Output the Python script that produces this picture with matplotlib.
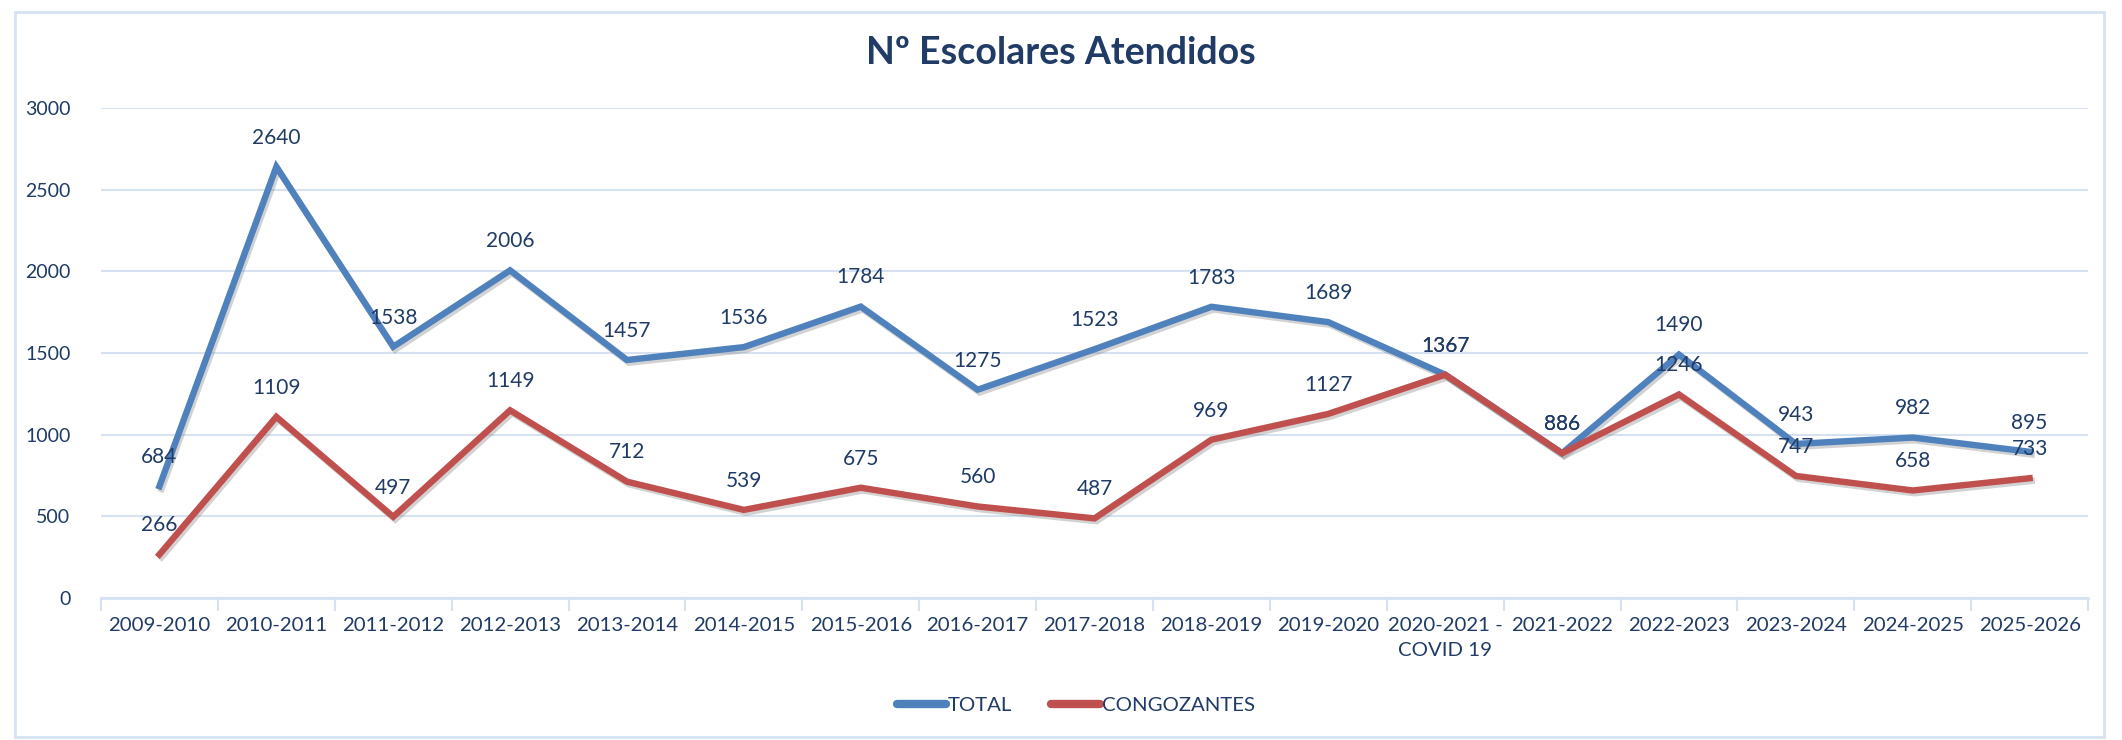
import matplotlib.pyplot as plt
import matplotlib.patheffects as pe
from matplotlib.patches import Rectangle
import numpy as np

# data
cursos = ['2009-2010', '2010-2011', '2011-2012', '2012-2013', '2013-2014',
          '2014-2015', '2015-2016', '2016-2017', '2017-2018', '2018-2019',
          '2019-2020', '2020-2021 -\nCOVID 19', '2021-2022', '2022-2023',
          '2023-2024', '2024-2025', '2025-2026']
total = [684, 2640, 1538, 2006, 1457, 1536, 1784, 1275, 1523, 1783,
         1689, 1367, 886, 1490, 943, 982, 895]
congozantes = [266, 1109, 497, 1149, 712, 539, 675, 560, 487, 969,
               1127, 1367, 886, 1246, 747, 658, 733]

azul = '#4F81BD'
rojo = '#C0504D'
texto = '#1F3B66'
rejilla = '#D6E2F2'

plt.rcParams['font.family'] = ['Lato', 'DejaVu Sans']

fig = plt.figure(figsize=(21.22, 7.4), dpi=100)
ax = fig.add_axes([0.0476, 0.192, 0.9364, 0.662])

x = np.arange(len(cursos))
sombra = [pe.SimpleLineShadow(offset=(1.5, -2), shadow_color='gray', alpha=0.35), pe.Normal()]
ax.plot(x, total, color=azul, lw=4.6, solid_joinstyle='miter', label='TOTAL', path_effects=sombra, zorder=3)
ax.plot(x, congozantes, color=rojo, lw=4.6, solid_joinstyle='miter', label='CONGOZANTES', path_effects=sombra, zorder=4)

for xi, v in zip(x, total):
    ax.annotate(str(v), (xi, v), xytext=(0, 21), textcoords='offset points',
                ha='center', va='center', fontsize=15, color=texto, zorder=5)
for xi, v in zip(x, congozantes):
    ax.annotate(str(v), (xi, v), xytext=(0, 21), textcoords='offset points',
                ha='center', va='center', fontsize=15, color=texto, zorder=5)

ax.set_xlim(-0.5, len(cursos) - 0.5)
ax.set_ylim(0, 3000)
ax.set_yticks(np.arange(0, 3001, 500))
ax.set_xticks(x)
ax.set_xticklabels(cursos, linespacing=1.55)
ax.set_xticks(np.arange(-0.5, len(cursos), 1), minor=True)
ax.tick_params(axis='x', which='major', length=0, pad=14, labelsize=14.7, labelcolor=texto)
ax.tick_params(axis='x', which='minor', length=9, width=1.5, color=rejilla)
ax.tick_params(axis='y', length=0, pad=22, labelsize=14, labelcolor=texto)
ax.grid(axis='y', color=rejilla, lw=1.5)
ax.set_axisbelow(True)
for s in ['top', 'right', 'left']:
    ax.spines[s].set_visible(False)
ax.spines['bottom'].set_color(rejilla)
ax.spines['bottom'].set_linewidth(2)

fig.text(0.5, 0.928, 'Nº Escolares Atendidos', ha='center', va='center',
         fontsize=27, fontweight='bold', color=texto)

leg = fig.legend(loc='center', bbox_to_anchor=(0.507, 0.047), ncol=2, frameon=False,
                 fontsize=14.7, handlelength=2.4, handletextpad=0.1, columnspacing=1.9)
for t in leg.get_texts():
    t.set_color(texto)
for h in leg.get_lines():
    h.set_linewidth(6)
    h.set_solid_capstyle('round')
    h.set_path_effects([])

fig.patches.append(Rectangle((15 / 2122, 3 / 740), 2089 / 2122, 725 / 740, transform=fig.transFigure,
                             fill=False, edgecolor=rejilla, lw=2))

fig.savefig('out.png', dpi=100)
